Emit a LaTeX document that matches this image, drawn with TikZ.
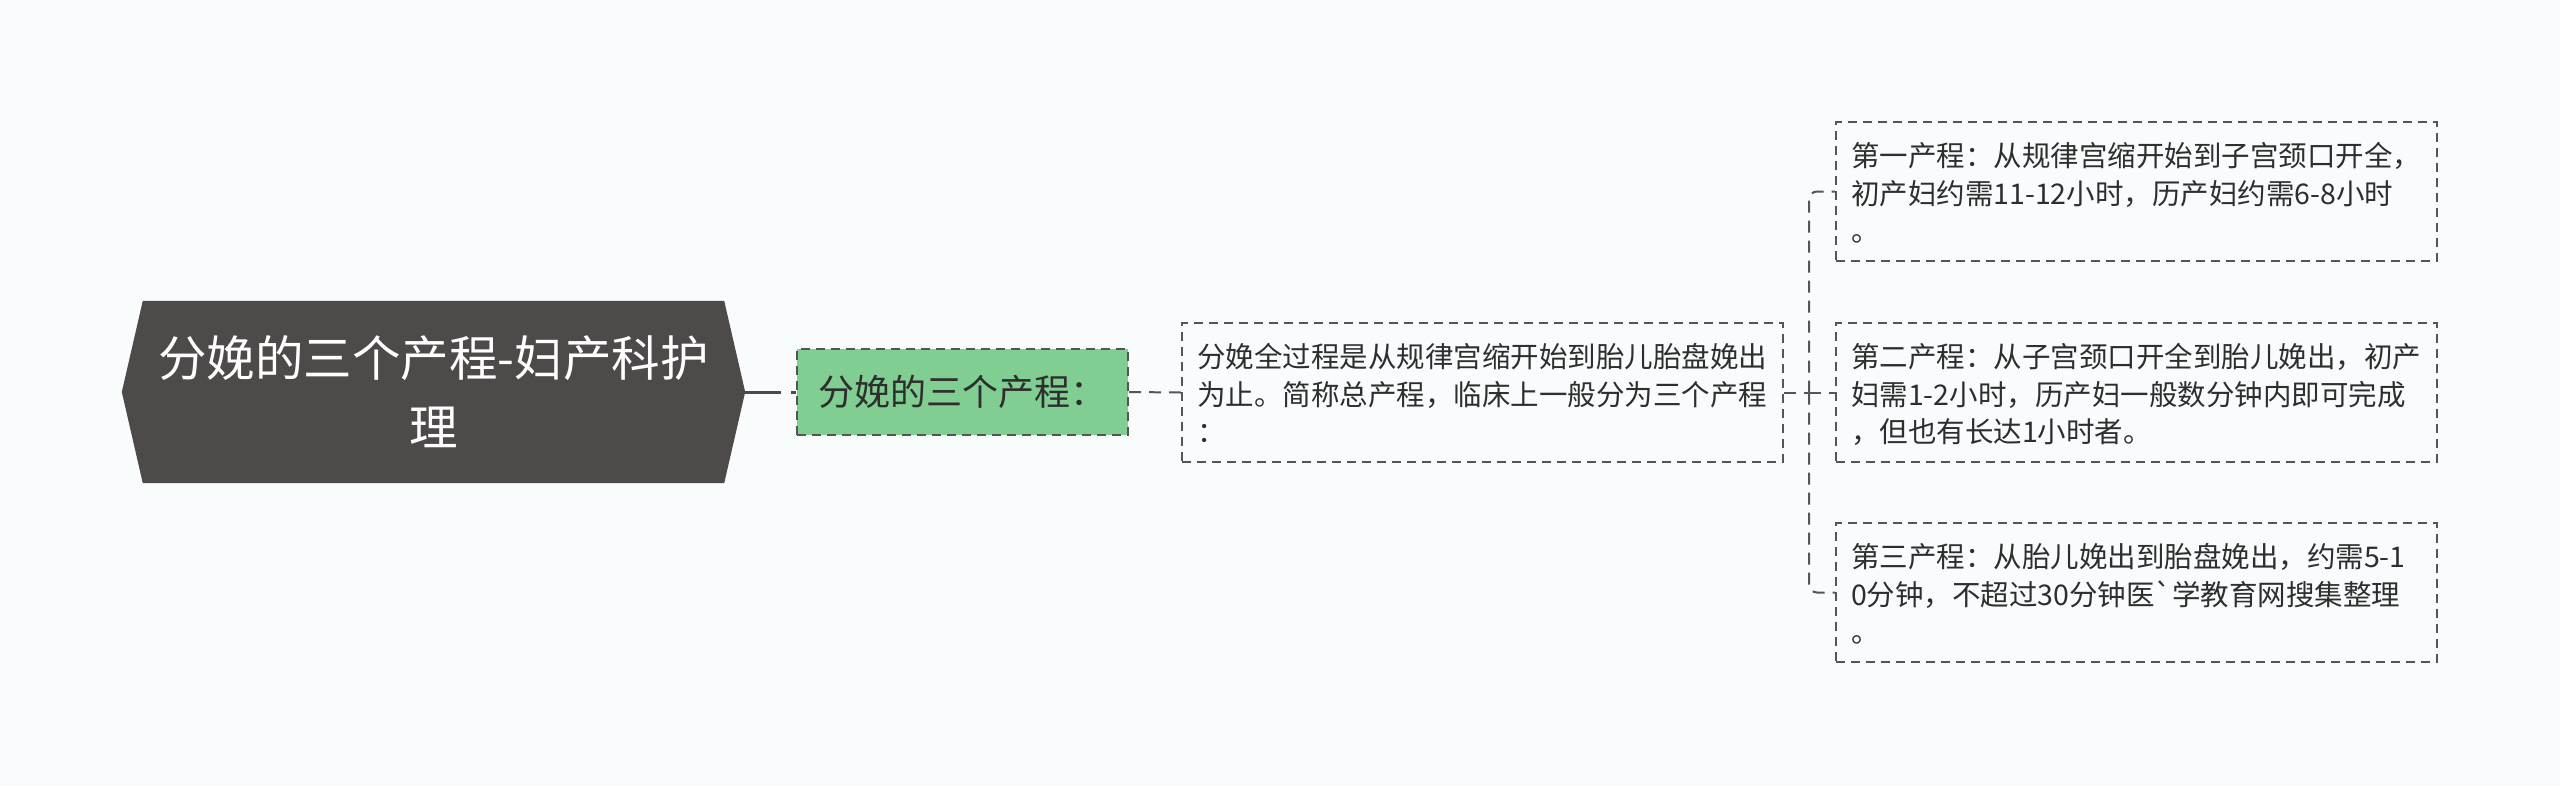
\documentclass[tikz,border=0pt]{standalone}
\usepackage{fontspec}
\setmainfont{Noto Sans CJK SC}
\newfontfamily\noligfont{Noto Sans CJK SC}
\usetikzlibrary{backgrounds}
\definecolor{bgc}{HTML}{F8FCFD}
\definecolor{rootc}{HTML}{4F4A4A}
\definecolor{greenc}{HTML}{80CE91}
\definecolor{linec}{HTML}{555555}
\definecolor{txtc}{HTML}{2E2E2E}
\newcommand{\topstrut}[1]{\rule{0pt}{#1}}
\tikzset{
  rootbox/.style={minimum width=623pt, minimum height=182pt, inner sep=0pt, align=center, text=white, font=\fontsize{48.5pt}{69pt}\selectfont},
  greenbox/.style={fill=greenc, draw=linec, line width=2pt, dash pattern=on 9pt off 6pt, minimum width=331pt, minimum height=86pt, inner sep=0pt, text=txtc, font=\fontsize{36pt}{44pt}\selectfont},
  textbox/.style={draw=linec, line width=2pt, dash pattern=on 9pt off 6pt, text width=571pt, inner xsep=15pt, inner ysep=0pt, minimum height=139pt, align=left, text=txtc, font=\fontsize{28.5pt}{37.5pt}\selectfont},
  rootconn/.style={draw=rootc, line width=3pt, dash pattern=on 36pt off 10pt on 20pt off 10pt},
  conn/.style={draw=linec, line width=2pt, dash pattern=on 12pt off 8pt},
}
\begin{document}
\begin{tikzpicture}[x=1pt,y=-1pt]
\useasboundingbox (0,0) rectangle (2560,785);
\node[rootbox] (root) at (433.5,392) {\topstrut{58.3pt}分娩的三个产程-妇产科护\\\strut 理};
\begin{scope}[on background layer]
\fill[bgc] (0,0) rectangle (2560,785);
\fill[rootc] (root.west) -- ([xshift=21pt]root.north west) -- ([xshift=-21pt]root.north east) -- (root.east) -- ([xshift=-21pt]root.south east) -- ([xshift=21pt]root.south west) -- cycle;
\end{scope}
\node[greenbox] (green) at (962.5,392) {分娩的三个产程：};
\node[textbox] (mid) at (1482.5,392.5) {\topstrut{36.25pt}分娩全过程是从规律宫缩开始到胎儿胎盘娩出\\为止。简称总产程，临床上一般分为三个产程\\\strut ：};
\node[textbox] (b1) at (2136.5,191.5) {\topstrut{36.25pt}第一产程：从规律宫缩开始到子宫颈口开全，\\初产妇约需11-12小时，历产妇约需6-8小时\\\strut 。};
\node[textbox] (b2) at (2136.5,392.5) {\topstrut{36.25pt}第二产程：从子宫颈口开全到胎儿娩出，初产\\妇需1-2小时，历产妇一般数分钟内即可完成\\\strut ，但也有长达1小时者。};
\node[textbox] (b3) at (2136.5,592.5) {\topstrut{36.25pt}第三产程：从胎儿娩出到胎盘娩出，约需5-1\\0分钟，不超过30分钟医{\noligfont\char96}学教育网搜集整理\\\strut 。};
\coordinate (fork) at (1809,392.5);
\draw[rootconn] (root.east) -- (green.west);
\draw[conn] (green.east) -- (mid.west);
\draw[conn] (mid.east) -- (fork);
\draw[conn, rounded corners=8pt] (fork) |- (b1.west);
\draw[conn] (fork) -- (b2.west);
\draw[conn, rounded corners=8pt] (fork) |- (b3.west);
\end{tikzpicture}
\end{document}
